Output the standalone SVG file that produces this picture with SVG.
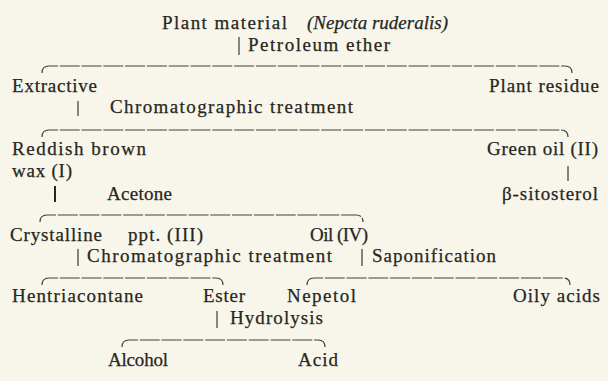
<svg xmlns="http://www.w3.org/2000/svg" width="608" height="381" viewBox="0 0 608 381">
<defs>
<style>
text{font-family:'Liberation Serif','DejaVu Serif','Times New Roman',Times,serif;font-size:19px;fill:#27261e;stroke:#27261e;stroke-width:0.25;}
.it{font-style:italic;}
.br{fill:none;stroke:#3a4233;stroke-width:1.2;stroke-dasharray:20 1.8;}
.pp{stroke:#27261e;stroke-width:1.1;}
.pt{stroke:#27261e;stroke-width:2;}
</style>
</defs>
<rect width="608" height="381" fill="#f8f6ea"/>
<g id="connectors">
<line class="pp" x1="239" y1="37" x2="239" y2="55"/>
<path class="br" d="M42 73 Q42 66 49 66 H565 Q572 66 572 73"/>
<line class="pp" x1="78" y1="101" x2="78" y2="116"/>
<path class="br" d="M42 137 Q42 130 49 130 H561 Q568 130 568 137"/>
<line class="pp" x1="568" y1="166" x2="568" y2="181"/>
<line class="pt" x1="55" y1="186" x2="55" y2="202"/>
<path class="br" d="M40 222 Q40 215 47 215 H356 Q363 215 363 222"/>
<line class="pp" x1="78" y1="249" x2="78" y2="266"/>
<line class="pp" x1="362" y1="249" x2="362" y2="266"/>
<path class="br" d="M42 285 Q42 278 49 278 H216 Q223 278 223 285"/>
<path class="br" d="M307 285 Q307 278 314 278 H563 Q570 278 570 285"/>
<line class="pp" x1="217" y1="311" x2="217" y2="328"/>
<path class="br" d="M122 347 Q122 340 129 340 H318 Q325 340 325 347"/>
</g>
<g font-family="Liberation Serif, DejaVu Serif, serif">
<g id="plant-material"><text y="29"><tspan x="162" textLength="125">Plant material</tspan><tspan class="it" x="307" textLength="141">(Nepcta ruderalis)</tspan></text></g>
<g id="petroleum-ether"><text x="248" y="51" textLength="142">Petroleum ether</text></g>
<g id="extractive"><text x="12" y="92" textLength="85">Extractive</text></g>
<g id="plant-residue"><text x="489" y="92" textLength="110">Plant residue</text></g>
<g id="chromatographic-1"><text x="110" y="113" textLength="243">Chromatographic treatment</text></g>
<g id="reddish-brown-wax"><text x="12" y="155" textLength="134">Reddish brown</text><text x="12" y="177" textLength="60">wax (I)</text></g>
<g id="green-oil"><text x="487" y="155" textLength="111">Green oil (II)</text></g>
<g id="acetone"><text x="107" y="200" textLength="65">Acetone</text></g>
<g id="sitosterol"><text x="502" y="200" textLength="96">β-sitosterol</text></g>
<g id="crystalline-ppt"><text y="241"><tspan x="10" textLength="92">Crystalline</tspan><tspan x="128" textLength="75">ppt. (III)</tspan></text></g>
<g id="oil-iv"><text x="310" y="241" textLength="58">Oil (IV)</text></g>
<g id="chromatographic-2"><text x="87" y="262" textLength="245">Chromatographic treatment</text></g>
<g id="saponification"><text x="372" y="262" textLength="124">Saponification</text></g>
<g id="hentriacontane"><text x="12" y="302" textLength="131">Hentriacontane</text></g>
<g id="ester"><text x="203" y="302" textLength="42">Ester</text></g>
<g id="nepetol"><text x="287" y="302" textLength="69">Nepetol</text></g>
<g id="oily-acids"><text x="513" y="302" textLength="87">Oily acids</text></g>
<g id="hydrolysis"><text x="230" y="324" textLength="93">Hydrolysis</text></g>
<g id="alcohol"><text x="108" y="366" textLength="60">Alcohol</text></g>
<g id="acid"><text x="298" y="366" textLength="40">Acid</text></g>
</g>
</svg>
